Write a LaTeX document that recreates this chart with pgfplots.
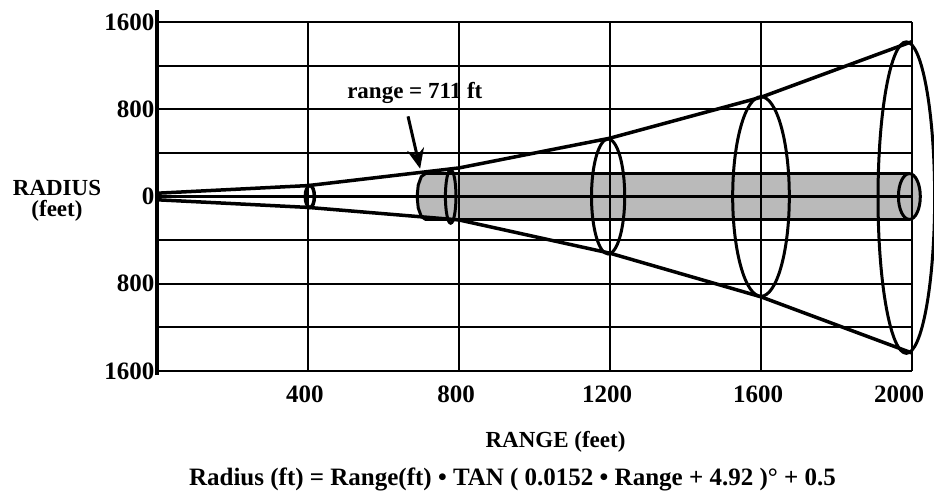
\documentclass[border=0pt]{standalone}
\usepackage{pgfplots}
\pgfplotsset{compat=1.18}
\usepackage{fontspec}
\setmainfont{Liberation Serif}
\usetikzlibrary{arrows.meta}
\begin{document}
\begin{tikzpicture}[font=\fontsize{23}{26}\selectfont\bfseries]
\useasboundingbox (-157pt,-122pt) rectangle (777pt,371pt);
\begin{axis}[
  at={(0pt,0pt)}, anchor=south west,
  scale only axis, width=755pt, height=349pt,
  xmin=0, xmax=2000, ymin=-1600, ymax=1600,
  clip=false, axis on top,
  xtick={0,400,...,2000}, xticklabels={,400,800,1200,1600,\makebox[0pt]{\hspace*{-20pt}2000}},
  ytick={-1600,-1200,...,1600}, yticklabels={1600,,800,,0,,800,,1600},
  major tick length=0pt,
  /pgf/number format/assume math mode=true,
  tick label style={font=\fontsize{25}{28}\selectfont\bfseries},
  xticklabel style={yshift=-11pt, xshift=-3pt},
  yticklabel style={xshift=1pt},
  grid=major, grid style={black, line width=2pt},
  axis x line*=bottom, axis y line*=left,
  axis line style={-},
  x axis line style={-, line width=2pt},
  y axis line style={-, line width=4pt, shorten <=-4pt, shorten >=-12pt},
]
% shaded cylinder (range 711 ft onwards)
\addplot[draw=none, fill=black!27] coordinates {
  (711,210) (700,182) (692,105) (689,0) (692,-105) (700,-182) (711,-210)
  (1995,-210) (1995,210)} -- cycle;
\draw[line width=3pt, fill=black!27] (axis cs:1993,0) ellipse [x radius=29, y radius=210];
\addplot[black, line width=3.2pt] coordinates {(711,210) (1993,210)};
\addplot[black, line width=3.2pt] coordinates {(711,-208) (1993,-208)};
\addplot[black, line width=3pt] coordinates {
  (711,210) (700,182) (692,105) (689,0) (692,-105) (700,-182) (711,-210)};
% centre line
\addplot[black, line width=3.5pt] coordinates {(0,0) (2000,0)};
% cone boundaries
\addplot[black, line width=3.5pt] coordinates {
  (0,30) (400,100) (800,262) (1200,535) (1600,910) (2000,1420)};
\addplot[black, line width=3.5pt] coordinates {
  (0,-30) (400,-100) (800,-215) (1200,-520) (1600,-920) (2000,-1435)};
% cross-section ellipses
\draw[line width=3.5pt] (axis cs:405,0) ellipse [x radius=12, y radius=100];
\draw[line width=3pt] (axis cs:778,0) ellipse [x radius=14, y radius=245];
\draw[line width=3pt] (axis cs:1195,0) ellipse [x radius=44, y radius=527];
\draw[line width=3pt] (axis cs:1600,0) ellipse [x radius=75, y radius=915];
\draw[line width=3pt] (axis cs:1985,-10) ellipse [x radius=75, y radius=1428];
% annotation
\node at (axis cs:683,945) {range = 711 ft};
\draw[line width=3pt, -{Stealth[length=20pt,width=17pt]}] (axis cs:665,735) -- (axis cs:697,255);
% labels
\node[align=center, font=\fontsize{23}{21}\selectfont\bfseries] at (axis cs:0,-40) [xshift=-100pt] {RADIUS\\(feet)};
\node at (rel axis cs:0.5,0) [xshift=21pt, yshift=-71pt] {RANGE (feet)};
\node[font=\fontsize{25}{28}\selectfont\bfseries] at (rel axis cs:0.5,0) [xshift=-22pt, yshift=-108pt] {Radius (ft) = Range(ft) • TAN ( 0.0152 • Range + 4.92 )° + 0.5};
\end{axis}
\end{tikzpicture}
\end{document}
